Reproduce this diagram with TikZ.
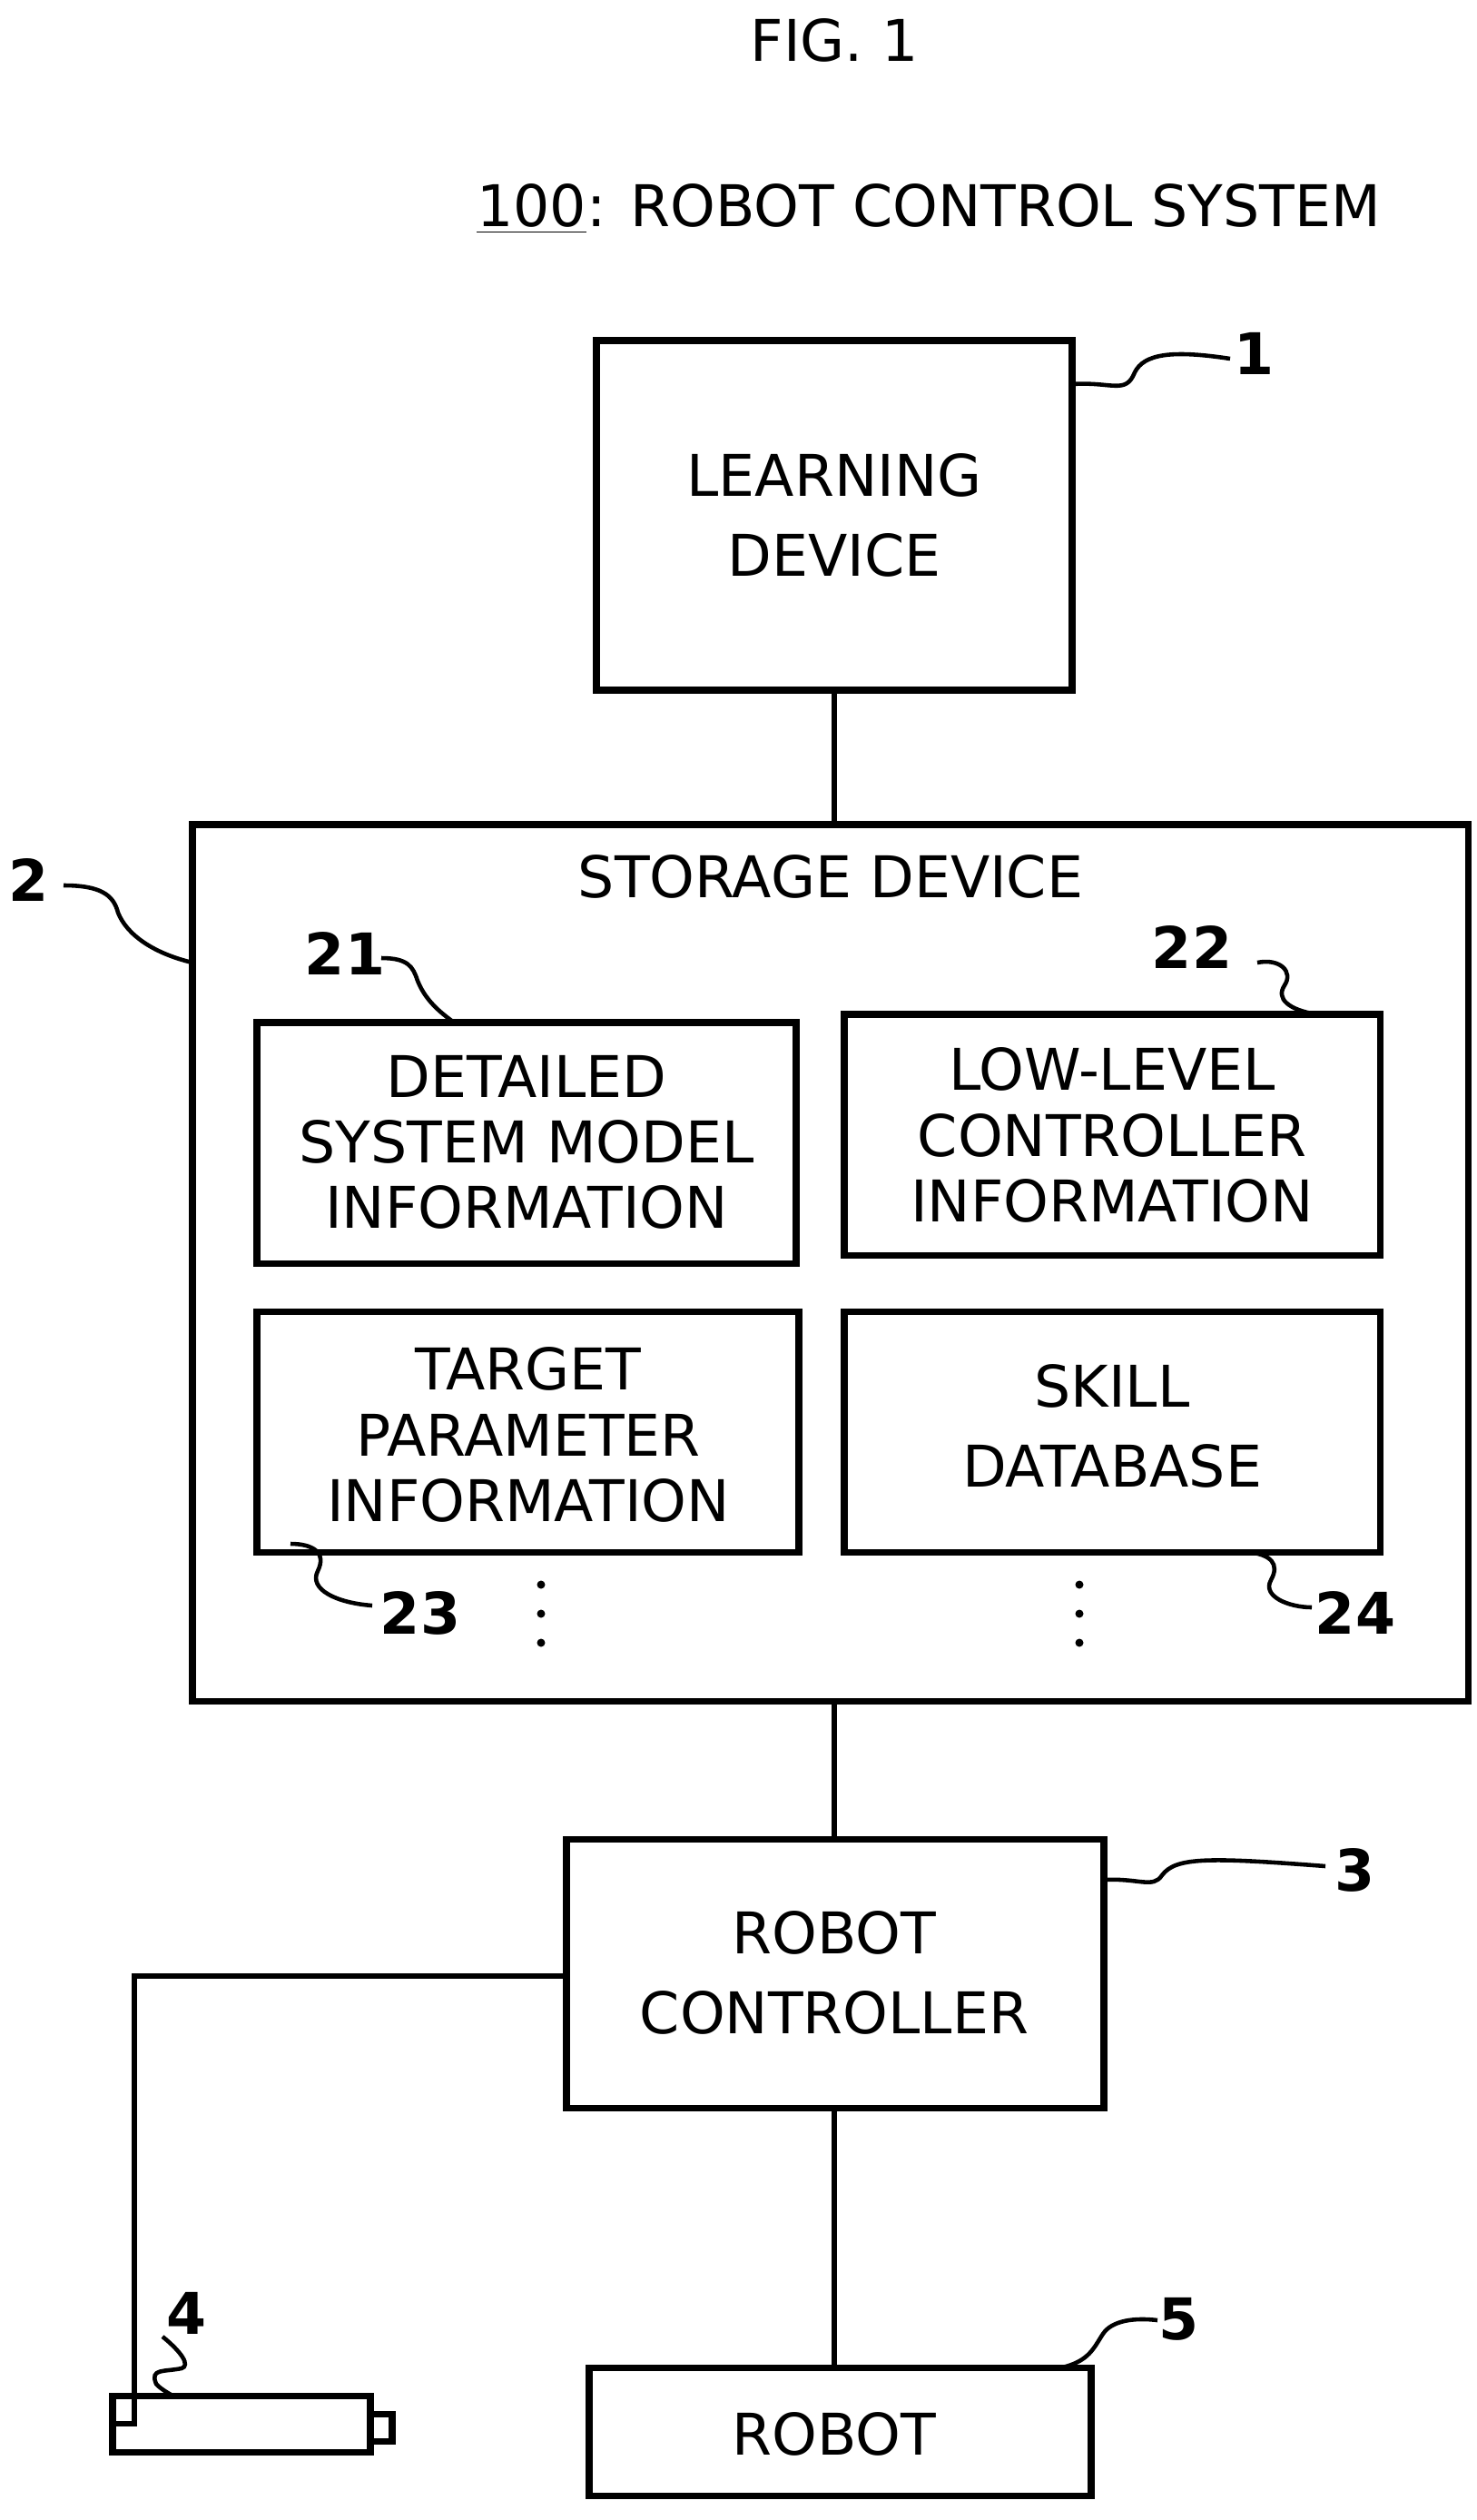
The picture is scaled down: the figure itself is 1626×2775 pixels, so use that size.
\documentclass[tikz,border=0pt]{standalone}
\usepackage{fontspec}
\setmainfont{DejaVu Sans}
\begin{document}
\begin{tikzpicture}[x=0.01cm,y=-0.01cm,
  box/.style={draw,line width=2pt,inner sep=0},
  txt/.style={font=\fontsize{18}{20.5}\selectfont,align=center},
  lbl/.style={font=\fontsize{18}{20}\selectfont},
  num/.style={font=\fontsize{18}{20}\selectfont\bfseries},
  sq/.style={line width=1.3pt},
  ln/.style={line width=1.6pt}]
\useasboundingbox (0,0) rectangle (1626,2775);
\node[lbl] (fig) at (919,44) {FIG. 1};
\node[lbl,anchor=west] (title) at (513,230) {\underline{100}: ROBOT CONTROL SYSTEM};
% learning device
\draw[box] (657,375) rectangle (1181,760);
\node[txt,font=\fontsize{18}{25}\selectfont] (ld) at (919,567) {LEARNING\\DEVICE};
\coordinate (ldb) at (919,760);
\node[num] (l1) at (1382,389) {1};
\draw[sq] (1181,423) .. controls (1225,420) and (1240,435) .. (1250,410) .. controls (1260,390) and (1290,385) .. (1355,395);
% storage
\draw[box] (212,908) rectangle (1617,1873);
\coordinate (stt) at (919,908);
\coordinate (stb) at (919,1873);
\node[lbl] (sd) at (915,965) {STORAGE DEVICE};
\node[num] (l2) at (32,969) {2};
\draw[sq] (70,975) .. controls (110,975) and (125,985) .. (130,1005) .. controls (140,1030) and (170,1050) .. (212,1060);
\draw[box] (283,1126) rectangle (877,1391);
\node[txt] (b21) at (580,1258) {DETAILED\\SYSTEM MODEL\\INFORMATION};
\node[num] (l21) at (380,1050) {21};
\draw[sq] (420,1055) .. controls (450,1055) and (455,1065) .. (460,1080) .. controls (470,1105) and (490,1118) .. (500,1126);
\draw[box] (930,1117) rectangle (1520,1382);
\node[txt] (b22) at (1225,1250) {LOW-LEVEL\\CONTROLLER\\INFORMATION};
\node[num] (l22) at (1313,1043) {22};
\draw[sq] (1385,1060) .. controls (1410,1055) and (1425,1070) .. (1415,1085) .. controls (1405,1100) and (1420,1112) .. (1450,1117);
\draw[box] (283,1444) rectangle (880,1709);
\node[txt] (b23) at (582,1580) {TARGET\\PARAMETER\\INFORMATION};
\node[num] (l23) at (463,1776) {23};
\draw[sq] (320,1700) .. controls (345,1700) and (360,1710) .. (350,1730) .. controls (340,1750) and (370,1765) .. (410,1768);
\draw[box] (930,1444) rectangle (1520,1709);
\node[txt,font=\fontsize{18}{25}\selectfont] (b24) at (1225,1570) {SKILL\\DATABASE};
\node[num] (l24) at (1493,1776) {24};
\draw[sq] (1375,1709) .. controls (1400,1712) and (1410,1722) .. (1400,1740) .. controls (1390,1758) and (1420,1770) .. (1445,1770);
\foreach \x in {596,1189} {
  \foreach \y in {1745,1777,1809} \fill (\x,\y) circle (4.5);
}
% robot controller
\draw[box] (624,2025) rectangle (1216,2321);
\coordinate (rct) at (919,2025);
\coordinate (rcb) at (919,2321);
\coordinate (rcl) at (624,2176);
\node[txt,font=\fontsize{18}{25}\selectfont] (rc) at (919,2172) {ROBOT\\CONTROLLER};
\node[num] (l3) at (1493,2059) {3};
\draw[sq] (1216,2070) .. controls (1255,2068) and (1270,2080) .. (1280,2065) .. controls (1295,2045) and (1330,2045) .. (1460,2055);
% robot
\draw[box] (649,2607) rectangle (1202,2748);
\coordinate (rbt) at (919,2607);
\node[lbl] (rb) at (919,2680) {ROBOT};
\node[num] (l5) at (1299,2554) {5};
\draw[sq] (1170,2607) .. controls (1200,2600) and (1205,2585) .. (1215,2570) .. controls (1225,2555) and (1250,2552) .. (1275,2555);
% camera
\draw[box] (124,2638) rectangle (408,2700);
\draw[line width=2pt] (408,2658) rectangle (432,2688);
\coordinate (cam) at (124,2669);
\node[num] (l4) at (206,2547) {4};
\draw[sq] (179,2573) .. controls (200,2590) and (210,2605) .. (200,2608) .. controls (180,2612) and (165,2608) .. (172,2625) .. controls (176,2630) and (185,2635) .. (190,2638);
% connectors
\draw[ln] (ldb) -- (stt);
\draw[ln] (stb) -- (rct);
\draw[ln] (rcb) -- (rbt);
\draw[ln] (rcl) -| (148,2669) -- (cam);
\end{tikzpicture}
\end{document}
